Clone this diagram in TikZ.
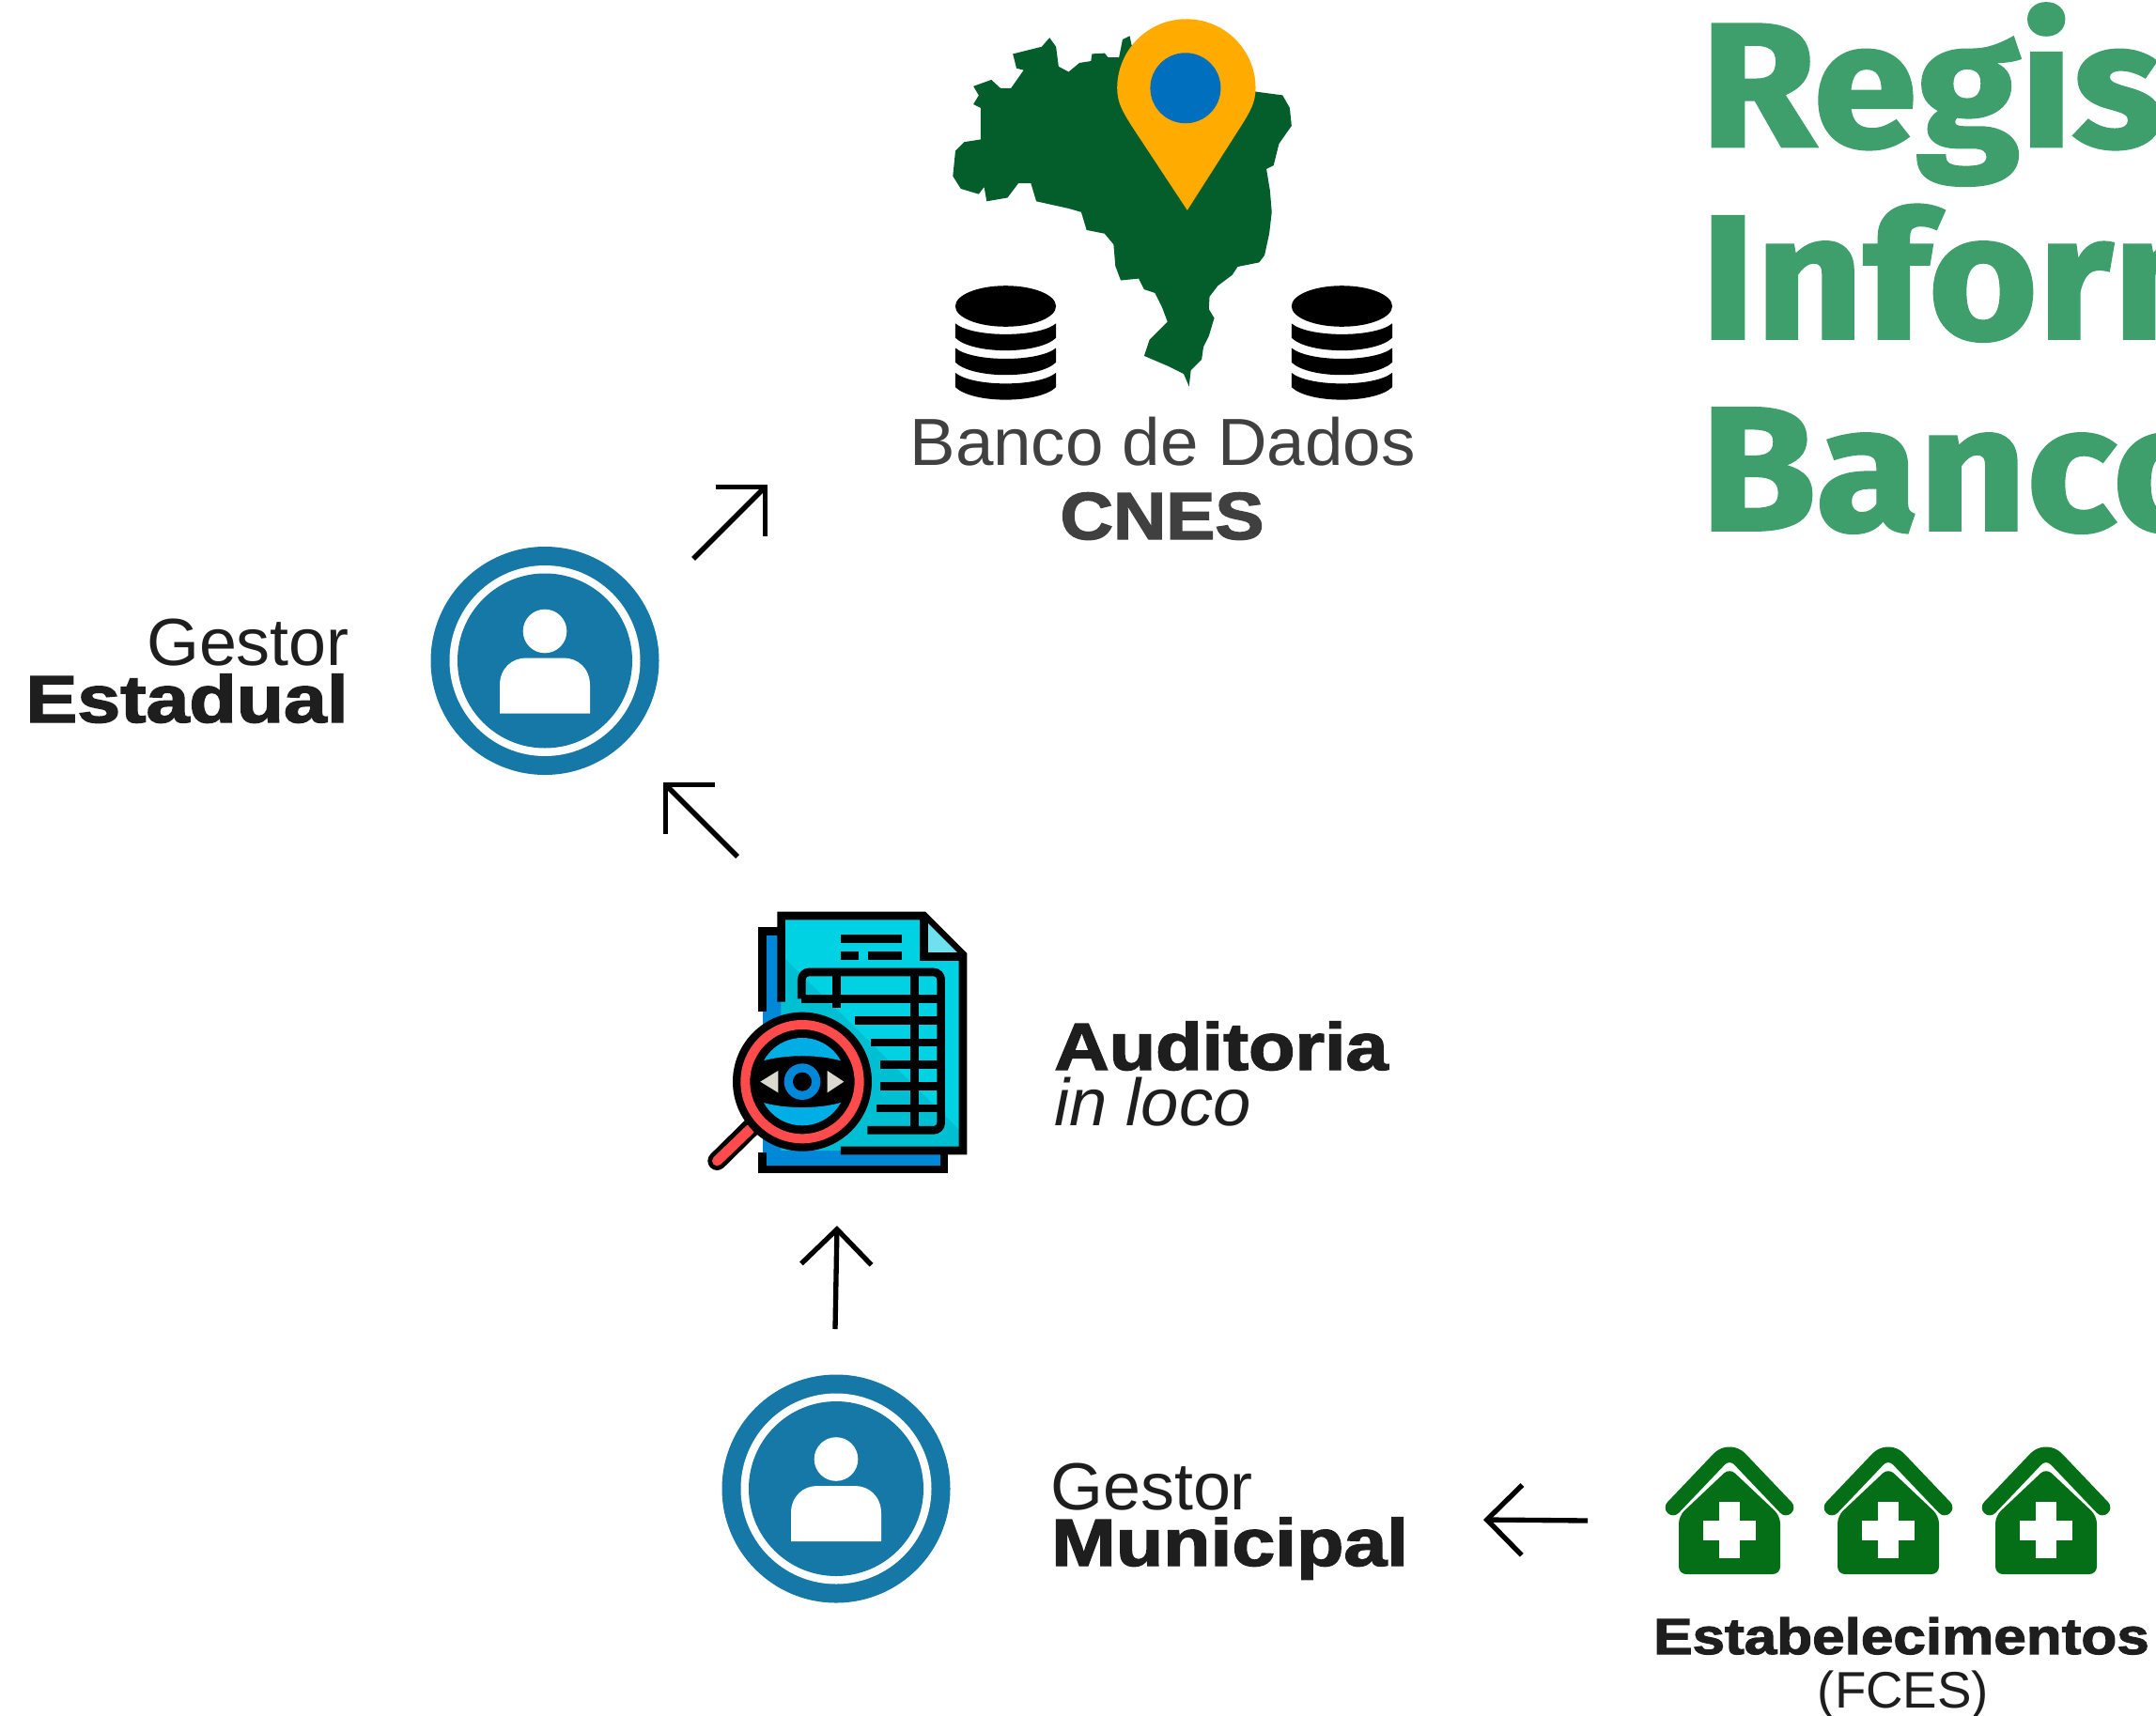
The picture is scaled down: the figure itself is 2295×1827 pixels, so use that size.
\documentclass[tikz,border=0pt]{standalone}
\usepackage{fontspec}
\usepackage{amsmath}
\setmainfont{Liberation Sans}[BoldFeatures={FakeBold=2}]
\newfontfamily\fonttitulo{Fira Sans}[BoldFeatures={FakeBold=1.5}]
\usetikzlibrary{arrows.meta}

\definecolor{verdeTitulo}{HTML}{3E9E6C}
\definecolor{verdeMapa}{HTML}{035E2B}
\definecolor{verdeCasa}{HTML}{056F17}
\definecolor{azulIcone}{HTML}{1578A6}
\definecolor{laranjaPino}{HTML}{FFAB00}
\definecolor{azulPino}{HTML}{0070BE}
\definecolor{azulFolha}{HTML}{0088D8}
\definecolor{cianoFolha}{HTML}{00D2E4}
\definecolor{cianoEscuro}{HTML}{00BFD3}
\definecolor{cianoDobra}{HTML}{6FE0EE}
\definecolor{azulLente}{HTML}{00AEE6}
\definecolor{vermelhoLupa}{HTML}{FF4B4B}
\definecolor{cinzaOlho}{HTML}{D9D9CF}
\definecolor{textoEscuro}{HTML}{1E1E1E}
\definecolor{textoBanco}{HTML}{404040}

\tikzset{
  seta/.style={line width=4pt,-{Straight Barb[length=28pt,width=56pt,line width=4pt]}},
  rotulo/.style={inner sep=0pt,text=textoEscuro,font=\fontsize{53.25}{60}\selectfont},
  rotuloBanco/.style={inner sep=0pt,text=textoBanco,font=\fontsize{53.25}{60}\selectfont},
  rotuloCasa/.style={inner sep=0pt,text=textoEscuro,font=\fontsize{40.5}{46}\selectfont},
  titulo/.style={inner sep=0pt,anchor=base west,text=verdeTitulo,font=\fonttitulo\bfseries\fontsize{141}{150}\selectfont},
  traco/.style={line width=6.5pt,draw=black},
  gestor/.pic={
    \fill [azulIcone] (0,0) circle [radius=121.5];
    \fill [white] (0,0) circle [radius=101.5];
    \fill [azulIcone] (0,0) circle [radius=93];
    \fill [white] (0,-31.5) circle [radius=23.3];
    \fill [white] (-48,56) -- (-48,26) .. controls (-48,8) and (-35,-3) .. (-20,-3) -- (20,-3) .. controls (35,-3) and (48,8) .. (48,26) -- (48,56) -- cycle;
  },
  banco/.pic={
    \fill [black] (0,326) circle [x radius=53.6,y radius=21.8];
    \foreach \yy in {344.4,370.5,396.9}{
      \fill [black] (-53.6,\yy) .. controls (-35,\yy+15.3) and (35,\yy+15.3) .. (53.6,\yy) -- (53.6,\yy+15.3) .. controls (35,\yy+33.2) and (-35,\yy+33.2) .. (-53.6,\yy+15.3) -- cycle;
    }
  },
  casa/.pic={
    \draw [verdeCasa,line width=12.5pt,line cap=round,line join=round,rounded corners=12pt] (-60,100) -- (0,37) -- (60,100);
    \fill [verdeCasa,rounded corners=6pt] (-54,109) -- (0,58) -- (54,109) -- (54,171) -- (-54,171) -- cycle;
    \fill [white] (-11,94) rectangle (11,154);
    \fill [white] (-28,114) rectangle (28,135);
  }
}

\begin{document}
\begin{tikzpicture}[x=0.75pt,y=0.75pt,yscale=-1,xscale=1]
\useasboundingbox (0,0) rectangle (2295,1827);

%Shape: Brazil map
\begin{scope}[shift={(950,0)},scale=0.3827]
\fill [verdeMapa] (335,150) -- (415,130) -- (437,105) -- (455,130) -- (462,185) -- (490,200) -- (520,175) -- (552,170) -- (555,150) -- (590,148) -- (600,160) -- (630,160) -- (640,110) -- (660,100) -- (665,125) -- (1010,255) -- (1085,265) -- (1105,300) -- (1110,350) -- (1075,400) -- (1060,460) -- (1040,470) -- (1050,530) -- (1055,590) -- (1048,650) -- (1035,710) -- (1020,730) -- (960,742) -- (945,765) -- (905,795) -- (882,825) -- (880,860) -- (895,885) -- (880,935) -- (865,965) -- (860,1000) -- (830,1030) -- (825,1075) -- (810,1040) -- (770,1020) -- (700,990) -- (715,945) -- (765,895) -- (750,855) -- (730,815) -- (700,805) -- (685,775) -- (635,780) -- (620,740) -- (615,680) -- (590,650) -- (540,640) -- (525,590) -- (490,580) -- (400,560) -- (385,510) -- (350,510) -- (320,550) -- (262,560) -- (255,520) -- (240,540) -- (190,525) -- (168,490) -- (175,420) -- (200,395) -- (245,388) -- (245,300) -- (225,290) -- (240,265) -- (225,240) -- (275,222) -- (300,245) -- (330,245) -- (365,195) -- (345,190) -- cycle;
%Shape: Pin
\fill [laranjaPino] (820,585) -- (665,350) .. controls (640,310) and (625,285) .. (625,245) .. controls (625,140) and (710,53) .. (817,53) .. controls (925,53) and (1010,140) .. (1010,245) .. controls (1010,285) and (995,310) .. (970,350) -- cycle;
\fill [azulPino] (815,245) circle [radius=98];
\end{scope}

%Shape: database stacks
\pic [transform shape] at (1070.5,0) {banco};
\pic [transform shape] at (1428.4,0) {banco};

%Shape: user circles
\pic [transform shape] at (580,703.5) {gestor};
\pic [transform shape] at (890,1585) {gestor};

%Shape: audit sheet
\begin{scope}[shift={(730,950)},scale=0.3333]
\fill [azulFolha] (245,125) rectangle (825,885);
\draw [traco] (245,380) -- (245,125) -- (305,125);
\draw [traco] (245,830) -- (245,885) -- (825,885) -- (825,830);
\fill [cianoFolha] (305,75) -- (760,75) -- (885,200) -- (885,825) -- (305,825) -- cycle;
\fill [cianoEscuro] (305,200) -- (885,770) -- (885,825) -- (305,825) -- cycle;
\draw [traco,line join=miter] (305,350) -- (305,75) -- (760,75) -- (885,200) -- (885,825) -- (495,825);
\fill [cianoDobra] (760,85) -- (760,205) -- (880,205) -- cycle;
\draw [traco] (760,85) -- (760,205) -- (880,205);
\draw [traco] (495,148) -- (690,148);
\draw [traco] (495,203) -- (552,203);
\draw [traco] (582,203) -- (690,203);
\draw [traco,rounded corners=6pt] (370,340) -- (370,255) -- (815,255) -- (815,760) -- (580,760);
\draw [traco] (370,340) -- (815,340);
\draw [traco] (482,255) -- (482,370);
\draw [traco] (730,255) -- (730,760);
\draw [traco] (540,410) -- (815,410);
\draw [traco] (590,480) -- (815,480);
\draw [traco] (620,550) -- (815,550);
\draw [traco] (620,620) -- (815,620);
\draw [traco] (610,690) -- (815,690);
%Shape: magnifier
\draw [black,line width=15pt,line cap=round] (225,735) -- (100,858);
\draw [vermelhoLupa,line width=8pt,line cap=round] (205,757) -- (100,858);
\fill [black] (372,605) circle [radius=222];
\begin{scope}
\clip (372,605) circle [radius=140];
\fill [azulLente] (200,555) .. controls (290,512) and (455,512) .. (540,555) -- (540,400) -- (200,400) -- cycle;
\fill [azulLente] (200,655) .. controls (290,698) and (455,698) .. (540,655) -- (540,810) -- (200,810) -- cycle;
\end{scope}
\draw [vermelhoLupa,line width=7.5pt] (372,605) circle [radius=182];
\fill [cinzaOlho] (238,605) -- (295,570) -- (295,640) -- cycle;
\fill [cinzaOlho] (505,605) -- (452,570) -- (452,640) -- cycle;
\fill [azulFolha] (372,605) circle [radius=58];
\fill [black] (372,605) circle [radius=30];
\end{scope}

%Shape: health units
\foreach \cx in {1841,2010,2178}{
  \pic [transform shape] at (\cx,1505) {casa};
}

%Straight Lines
\coordinate (setaBancoIni) at (738,595);
\coordinate (setaBancoFim) at (817,516);
\coordinate (setaEstadualIni) at (785,912);
\coordinate (setaEstadualFim) at (706,833);
\coordinate (setaAuditIni) at (889,1415);
\coordinate (setaAuditFim) at (891,1305);
\coordinate (setaMunicipalIni) at (1690,1619);
\coordinate (setaMunicipalFim) at (1579,1618);
\draw [seta] (setaBancoIni) -- (setaBancoFim);
\draw [seta] (setaEstadualIni) -- (setaEstadualFim);
\draw [seta] (setaAuditIni) -- (setaAuditFim);
\draw [seta] (setaMunicipalIni) -- (setaMunicipalFim);

% Text Node
\node (tituloA) [titulo] at (1810,156) {\scalebox{1.06}[1]{Regis}};
\node (tituloB) [titulo] at (1810,360.5) {\scalebox{1.06}[1]{Inform}};
\node (tituloC) [titulo] at (1810,564.5) {\scalebox{1.06}[1]{Banco}};
% Text Node
\node (bancoTxt) [rotuloBanco,anchor=base] at (1237.5,495) {\scalebox{1.025}[1]{Banco de Dados}};
\node (cnesTxt) [rotuloBanco,anchor=base] at (1237,574) {\scalebox{1.1}[1]{\bfseries CNES}};
% Text Node
\node (gestorA) [rotulo,anchor=base east] at (372,708) {\scalebox{1.012}[1]{Gestor}};
\node (estadual) [rotulo,anchor=base east] at (371,769) {\scalebox{1.16}[1]{\bfseries Estadual}};
% Text Node
\node (auditoria) [rotulo,anchor=base west] at (1122,1139) {\scalebox{1.14}[1]{\bfseries Auditoria}};
\node (inLoco) [rotulo,anchor=base west] at (1122,1198) {\scalebox{1.02}[1]{\itshape in loco}};
% Text Node
\node (gestorB) [rotulo,anchor=base west] at (1118,1607) {\scalebox{1.012}[1]{Gestor}};
\node (municipal) [rotulo,anchor=base west] at (1119,1667) {\scalebox{1.16}[1]{\bfseries Municipal}};
% Text Node
\node (estabTxt) [rotuloCasa,anchor=base] at (2024,1761) {\scalebox{1.149}[1]{\bfseries Estabelecimentos}};
\node (fcesTxt) [rotuloCasa,anchor=base,font=\fontsize{41}{46}\selectfont] at (2026,1818) {(FCES)};

\end{tikzpicture}
\end{document}
